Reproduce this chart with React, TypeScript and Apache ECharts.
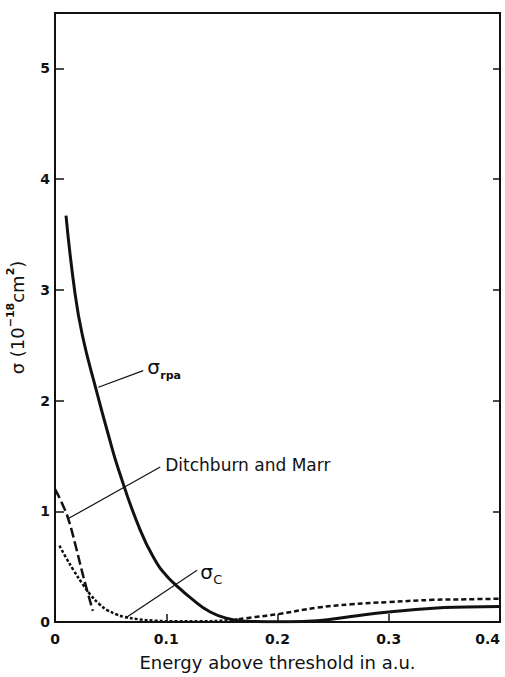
import React, { useEffect, useRef } from "react";
import * as echarts from "echarts";

const X_MIN = 0;
const X_MAX = 0.4;
const X_STEP = 0.1;
const Y_MIN = 0;
const Y_MAX = 5.5;
const Y_STEP = 1;

const rpaX = [0.0099, 0.0177, 0.0246, 0.0372, 0.0477, 0.057, 0.0766, 0.0916, 0.1, 0.108, 0.1216, 0.1396, 0.1577, 0.1727, 0.19, 0.21, 0.236, 0.266, 0.3, 0.34, 0.37, 0.4];
const rpaY = [3.67, 2.99, 2.59, 2.09, 1.7, 1.38, 0.83, 0.53, 0.42, 0.34, 0.22, 0.09, 0.025, 0.006, 0.003, 0.003, 0.012, 0.05, 0.09, 0.125, 0.135, 0.14];

const cDotX = [0.004, 0.01, 0.0165, 0.025, 0.0315, 0.04, 0.0465, 0.055, 0.0615, 0.075, 0.09, 0.11, 0.13, 0.15, 0.165];
const cDotY = [0.69, 0.58, 0.47, 0.34, 0.25, 0.16, 0.11, 0.07, 0.048, 0.025, 0.012, 0.006, 0.006, 0.012, 0.025];

const cDashX = [0.165, 0.18, 0.2, 0.236, 0.266, 0.3, 0.34, 0.37, 0.4];
const cDashY = [0.025, 0.045, 0.07, 0.13, 0.16, 0.18, 0.2, 0.205, 0.21];

const dmX = [0, 0.006, 0.012, 0.019, 0.0255, 0.034];
const dmY = [1.2, 1.08, 0.93, 0.67, 0.41, 0.1];

// annotation arrows: [fromX, fromY, toX, toY]
const arrowRpa = [0.0793, 2.27, 0.039, 2.12];
const arrowDM = [0.0946, 1.4, 0.012, 0.934];
const arrowC = [0.1277, 0.468, 0.063, 0.033];

// label anchors (data coords)
const labelRpa = [0.0829, 2.306];
const labelDM = [0.0991, 1.414];
const labelC = [0.1306, 0.45];

const FONT = "DejaVu Sans";

function pairs(xs: number[], ys: number[]) {
  return xs.map((x, i) => [x, ys[i]]);
}

function arrow(a: number[]) {
  return [[{ coord: [a[0], a[1]] }, { coord: [a[2], a[3]] }]];
}

export default function App() {
  const ref = useRef<HTMLDivElement>(null);
  useEffect(() => {
    if (!ref.current) return;
    const chart = echarts.init(ref.current, null, { renderer: "svg" });
    const markStyle = {
      silent: true,
      symbol: ["none", "arrow"],
      symbolSize: [0, 8],
      label: { show: false },
      lineStyle: { color: "#111", width: 1.2, type: "solid" },
      emphasis: { disabled: true },
    };
    chart.setOption({
      animation: false,
      backgroundColor: "#fff",
      grid: {
        left: 55,
        right: 5,
        top: 13,
        bottom: 55,
        containLabel: false,
        outerBoundsMode: "none",
        show: true,
        borderColor: "#111",
        borderWidth: 2,
        backgroundColor: "transparent",
      },
      xAxis: [
        {
          type: "value",
          min: X_MIN,
          max: X_MAX,
          interval: X_STEP,
          position: "bottom",
          name: "Energy above threshold in a.u.",
          nameLocation: "middle",
          nameGap: 31,
          nameTextStyle: { fontFamily: FONT, fontSize: 18, color: "#111" },
          axisLine: { show: true, lineStyle: { color: "#111", width: 2 } },
          axisTick: { show: true, inside: true, length: 8, lineStyle: { color: "#111", width: 1.5 } },
          axisLabel: {
            margin: 10,
            fontFamily: FONT,
            fontSize: 14,
            fontWeight: "bold",
            color: "#111",
            alignMaxLabel: "right",
            formatter: (v: number) => (v === 0 ? "0" : v.toFixed(1)),
          },
          splitLine: { show: false },
        },
      ],
      yAxis: [
        {
          type: "value",
          min: Y_MIN,
          max: Y_MAX,
          interval: Y_STEP,
          position: "left",
          name: "σ (10{sup|−18}cm{sup|2})",
          nameLocation: "middle",
          nameGap: 17,
          nameTextStyle: {
            fontFamily: FONT,
            fontSize: 18,
            color: "#111",
            lineHeight: 24,
            rich: {
              sup: { fontFamily: FONT, fontSize: 11, fontWeight: "bold", color: "#111", verticalAlign: "top", lineHeight: 24 },
            },
          },
          axisLine: { show: true, lineStyle: { color: "#111", width: 2 } },
          axisTick: { show: true, inside: true, length: 9, lineStyle: { color: "#111", width: 1.5 } },
          axisLabel: {
            margin: 5,
            fontFamily: FONT,
            fontSize: 14,
            fontWeight: "bold",
            color: "#111",
            formatter: (v: number) => (Math.abs(v - Math.round(v)) < 1e-9 ? String(Math.round(v)) : ""),
          },
          splitLine: { show: false },
        },
        {
          type: "value",
          min: Y_MIN,
          max: Y_MAX,
          interval: Y_STEP,
          position: "right",
          axisLine: { show: true, lineStyle: { color: "#111", width: 2 } },
          axisTick: { show: true, inside: true, length: 7, lineStyle: { color: "#111", width: 1.5 } },
          axisLabel: { show: false },
          splitLine: { show: false },
        },
      ],
      series: [
        {
          name: "σrpa",
          type: "line",
          data: pairs(rpaX, rpaY),
          smooth: 0.5,
          symbol: "none",
          lineStyle: { color: "#111", width: 3 },
          markLine: { ...markStyle, data: arrow(arrowRpa) },
        },
        {
          name: "σc dotted",
          type: "line",
          data: pairs(cDotX, cDotY),
          smooth: 0.4,
          symbol: "none",
          lineStyle: { color: "#111", width: 2.5, type: [3, 2] },
          markLine: { ...markStyle, data: arrow(arrowC) },
        },
        {
          name: "σc dashed",
          type: "line",
          data: pairs(cDashX, cDashY),
          smooth: 0.4,
          symbol: "none",
          lineStyle: { color: "#111", width: 2.5, type: [5, 3] },
        },
        {
          name: "Ditchburn and Marr",
          type: "line",
          data: pairs(dmX, dmY),
          smooth: 0.4,
          symbol: "none",
          lineStyle: { color: "#111", width: 2.5, type: [10, 4] },
          markLine: { ...markStyle, data: arrow(arrowDM) },
        },
        {
          name: "frame",
          type: "line",
          yAxisIndex: 1,
          data: [],
          symbol: "none",
        },
      ],
    });

    const p = (c: number[]) => chart.convertToPixel({ gridIndex: 0 }, c) as number[];
    const pr = p(labelRpa);
    const pd = p(labelDM);
    const pc = p(labelC);
    chart.setOption({
      graphic: [
        { type: "text", x: pr[0], y: pr[1], style: { text: "σ", fontFamily: FONT, fontSize: 20, fill: "#111", verticalAlign: "middle", align: "left" } },
        { type: "text", x: pr[0] + 13, y: pr[1] + 9, style: { text: "rpa", fontFamily: FONT, fontSize: 11, fontWeight: "bold", fill: "#111", verticalAlign: "middle", align: "left" } },
        { type: "text", x: pd[0], y: pd[1], style: { text: "Ditchburn and Marr", fontFamily: FONT, fontSize: 17, fill: "#111", verticalAlign: "middle", align: "left" } },
        { type: "text", x: pc[0], y: pc[1], style: { text: "σ", fontFamily: FONT, fontSize: 20, fill: "#111", verticalAlign: "middle", align: "left" } },
        { type: "text", x: pc[0] + 13, y: pc[1] + 7, style: { text: "C", fontFamily: FONT, fontSize: 13, fill: "#111", verticalAlign: "middle", align: "left" } },
      ],
    });
    return () => chart.dispose();
  }, []);
  return <div ref={ref} style={{ position: "absolute", left: 0, top: 0, width: 505, height: 677 }} />;
}
